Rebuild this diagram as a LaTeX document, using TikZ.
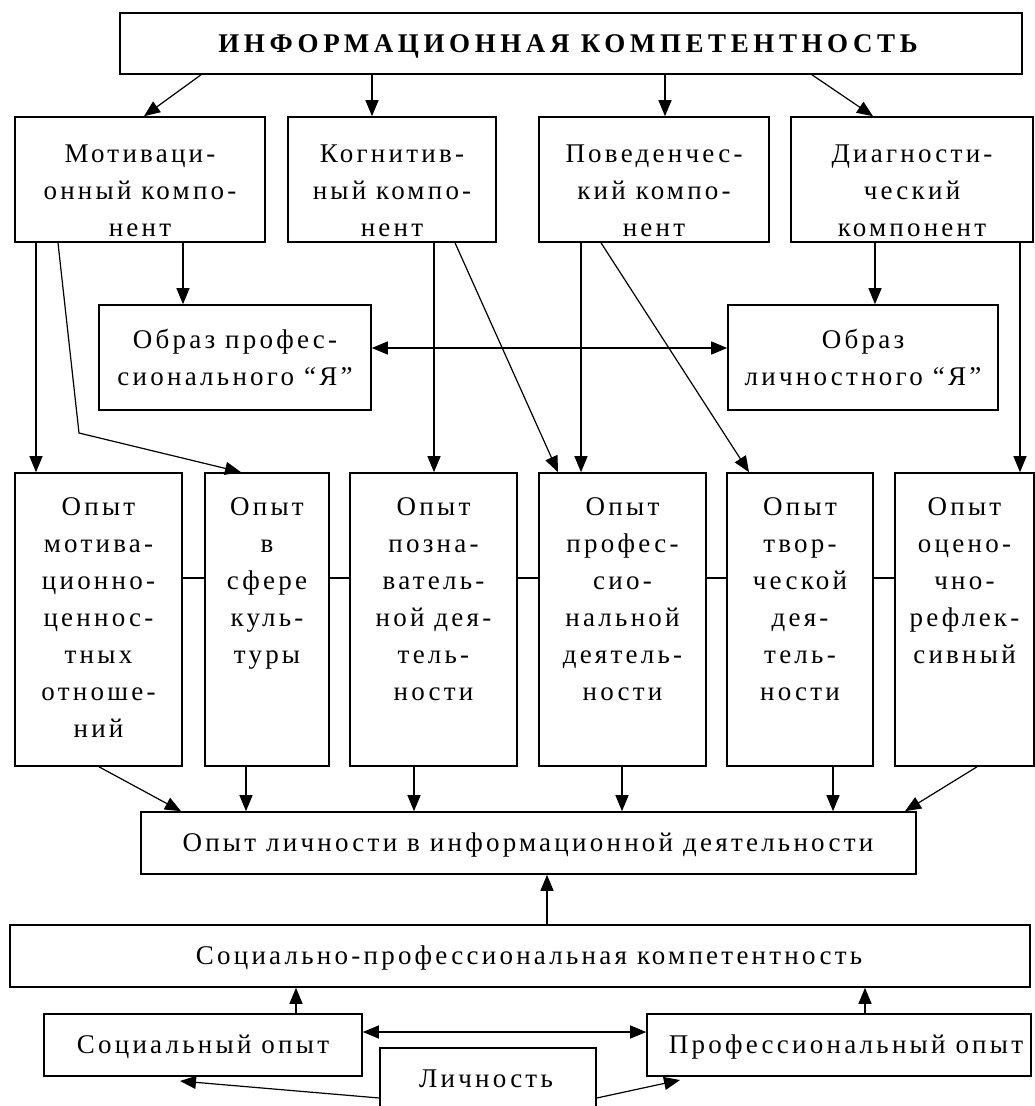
\documentclass[tikz,border=0pt]{standalone}
\usepackage{fontspec}
\setmainfont{Liberation Serif}[LetterSpace=12]
\usetikzlibrary{arrows.meta,fit}

\begin{document}
\begin{tikzpicture}[x=1pt,y=-1pt,
  box/.style={draw, line width=1.6pt, inner sep=0pt},
  lbl/.style={inner sep=0pt, align=center, font=\fontsize{27}{37}\selectfont},
  arr/.style={line width=1.2pt, -{Triangle[length=16pt,width=13pt]}},
  darr/.style={line width=1.2pt, {Triangle[length=16pt,width=13pt]}-{Triangle[length=16pt,width=13pt]}},
  link/.style={line width=1.2pt}]
\useasboundingbox (0,0) rectangle (1035,1106);
\fill[white] (0,0) rectangle (1035,1106);
\clip (0,0) rectangle (1035,1106);

% title
\node[box, fit={(120,13) (1022,74)}] (top) {};
\node[lbl, anchor=base, font=\fontsize{27}{37}\selectfont\bfseries\addfontfeature{LetterSpace=17}] (topt) at (568,52) {ИНФОРМАЦИОННАЯ КОМПЕТЕНТНОСТЬ};

% components
\node[box, fit={(15,117) (265,242)}] (m1) {};
\node[box, fit={(288,117) (496,242)}] (m2) {};
\node[box, fit={(539,117) (769,242)}] (m3) {};
\node[box, fit={(791,117) (1033,242)}] (m4) {};
\node[lbl, anchor=north] (m1t) at (m1.north |- 0,145) {Мотиваци-\\онный компо-\\нент};
\node[lbl, anchor=north] (m2t) at (m2.north |- 0,145) {Когнитив-\\ный компо-\\нент};
\node[lbl, anchor=north] (m3t) at (m3.north |- 0,145) {Поведенчес-\\кий компо-\\нент};
\node[lbl, anchor=north] (m4t) at (m4.north |- 0,145) {Диагности-\\ческий\\компонент};

% self-images
\node[box, fit={(99,305) (371,410)}] (op) {};
\node[box, fit={(728,305) (998,410)}] (ol) {};
\node[lbl, anchor=north] (opt) at (op.north |- 0,329) {Образ профес-\\сионального “Я”};
\node[lbl, anchor=north] (olt) at (ol.north |- 0,329) {Образ\\личностного “Я”};

% experience row
\node[box, fit={(15,473) (182,766)}] (o1) {};
\node[box, fit={(205,473) (329,766)}] (o2) {};
\node[box, fit={(350,473) (517,766)}] (o3) {};
\node[box, fit={(539,473) (706,766)}] (o4) {};
\node[box, fit={(727,473) (873,766)}] (o5) {};
\node[box, fit={(895,473) (1034,766)}] (o6) {};
\node[lbl, anchor=north] (o1t) at (o1.north |- 0,497) {Опыт\\мотива-\\ционно-\\ценнос-\\тных\\отноше-\\ний};
\node[lbl, anchor=north] (o2t) at (o2.north |- 0,497) {Опыт\\в\\сфере\\куль-\\туры};
\node[lbl, anchor=north] (o3t) at (o3.north |- 0,497) {Опыт\\позна-\\ватель-\\ной дея-\\тель-\\ности};
\node[lbl, anchor=north] (o4t) at (o4.north |- 0,497) {Опыт\\профес-\\сио-\\нальной\\деятель-\\ности};
\node[lbl, anchor=north] (o5t) at (o5.north |- 0,497) {Опыт\\твор-\\ческой\\дея-\\тель-\\ности};
\node[lbl, anchor=north] (o6t) at (o6.north |- 0,497) {Опыт\\оцено-\\чно-\\рефлек-\\сивный};

% lower blocks
\node[box, fit={(141,812) (916,874)}] (il) {};
\node[lbl, anchor=base] (ilt) at (528,851) {Опыт личности в информационной деятельности};
\node[box, fit={(10,925) (1030,987)}] (sp) {};
\node[lbl, anchor=base] (spt) at (529,964) {Социально-профессиональная компетентность};
\node[box, fit={(44,1014) (362,1076)}] (so) {};
\node[lbl, anchor=base] (sot) at (203,1053) {Социальный опыт};
\node[box, fit={(647,1014) (1031,1076)}] (po) {};
\node[lbl, anchor=base] (pot) at (846,1053) {Профессиональный опыт};
\node[box, fit={(380,1048) (596,1130)}] (li) {};
\node[lbl, anchor=base] (lit) at (486,1087) {Личность};

% connectors from the title
\draw[arr] (top.south -| 201,0) -- (m1.north -| 144,0);
\draw[arr] (top.south -| 372,0) -- (m2.north -| 372,0);
\draw[arr] (top.south -| 665,0) -- (m3.north -| 665,0);
\draw[arr] (top.south -| 812,0) -- (m4.north -| 873,0);

% connectors from the components
\draw[arr] (m1.south -| 36,0) -- (o1.north -| 36,0);
\draw[arr] (m1.south -| 58,0) -- (79,433) -- (o2.north -| 241,0);
\draw[arr] (m1.south -| 183,0) -- (op.north -| 183,0);
\draw[arr] (m2.south -| 434,0) -- (o3.north -| 434,0);
\draw[arr] (m2.south -| 455,0) -- (o4.north -| 558,0);
\draw[arr] (m3.south -| 581,0) -- (o4.north -| 581,0);
\draw[arr] (m3.south -| 601,0) -- (o5.north -| 749,0);
\draw[arr] (m4.south -| 875,0) -- (ol.north -| 875,0);
\draw[arr] (m4.south -| 1020,0) -- (o6.north -| 1020,0);
\draw[darr] (op.east |- 0,348) -- (ol.west |- 0,348);

% links along the experience row
\draw[link] (o1.east |- 0,578) -- (o2.west |- 0,578);
\draw[link] (o2.east |- 0,578) -- (o3.west |- 0,578);
\draw[link] (o3.east |- 0,578) -- (o4.west |- 0,578);
\draw[link] (o4.east |- 0,578) -- (o5.west |- 0,578);
\draw[link] (o5.east |- 0,578) -- (o6.west |- 0,578);

% into the personal experience block
\draw[arr] (o1.south -| 99,0) -- (il.north -| 181,0);
\draw[arr] (o2.south -| 246,0) -- (il.north -| 246,0);
\draw[arr] (o3.south -| 414,0) -- (il.north -| 414,0);
\draw[arr] (o4.south -| 622,0) -- (il.north -| 622,0);
\draw[arr] (o5.south -| 833,0) -- (il.north -| 833,0);
\draw[arr] (o6.south -| 977,0) -- (il.north -| 905,0);
\draw[arr] (sp.north -| 547,0) -- (il.south -| 547,0);

% bottom part
\draw[arr] (so.north -| 296,0) -- (sp.south -| 296,0);
\draw[arr] (po.north -| 865,0) -- (sp.south -| 865,0);
\draw[darr] (so.east |- 0,1032) -- (po.west |- 0,1032);
\coordinate (lsTip) at (180,1081);
\coordinate (lpTip) at (680,1080);
\draw[arr] (li.west |- 0,1098) -- (lsTip);
\draw[arr] (li.east |- 0,1098) -- (lpTip);
\end{tikzpicture}
\end{document}
